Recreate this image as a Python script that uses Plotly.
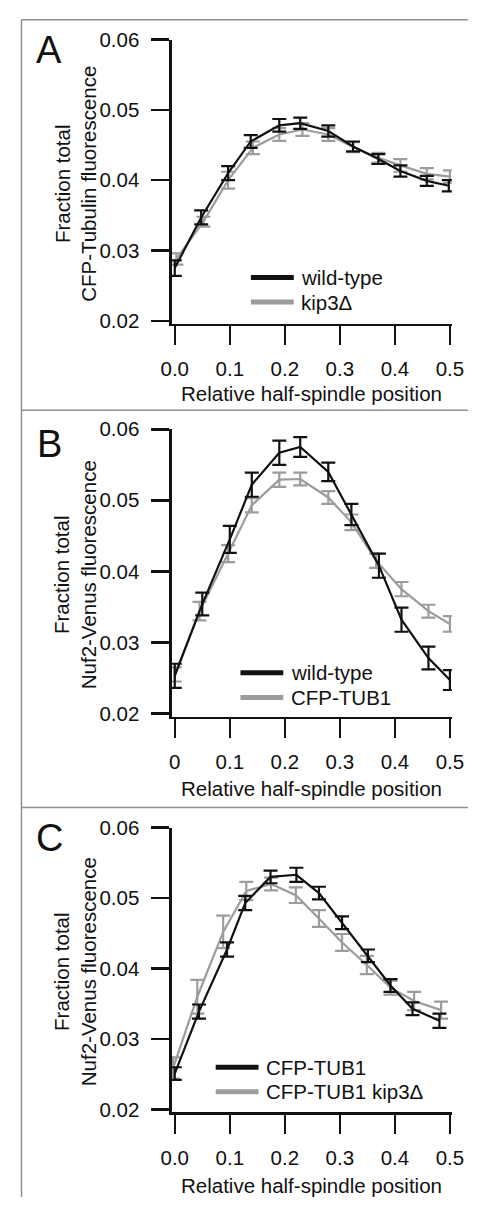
import plotly.graph_objects as go

# ---------------- data ----------------
# Panel A
xA_wt = [0, 0.048, 0.097, 0.138, 0.19, 0.228, 0.279, 0.324, 0.37, 0.41, 0.458, 0.498]
yA_wt = [0.0275, 0.0347, 0.0410, 0.0455, 0.0478, 0.0481, 0.0470, 0.0448, 0.0430, 0.0413, 0.0399, 0.0392]
eA_wt = [0.0011, 0.0010, 0.0010, 0.0009, 0.0009, 0.0008, 0.0008, 0.0007, 0.0007, 0.0008, 0.0007, 0.0008]
xA_k = [0.003, 0.052, 0.097, 0.142, 0.19, 0.232, 0.279, 0.324, 0.37, 0.41, 0.458, 0.5]
yA_k = [0.0288, 0.0341, 0.0400, 0.0446, 0.0465, 0.0472, 0.0465, 0.0447, 0.0432, 0.0421, 0.0409, 0.0405]
eA_k = [0.0008, 0.0007, 0.0012, 0.0009, 0.0009, 0.0009, 0.0009, 0.0007, 0.0007, 0.0009, 0.0008, 0.0009]

# Panel B
xB_wt = [0, 0.05, 0.1, 0.14, 0.19, 0.228, 0.279, 0.321, 0.371, 0.412, 0.461, 0.5]
yB_wt = [0.0253, 0.0354, 0.0445, 0.0522, 0.0567, 0.0575, 0.0540, 0.0480, 0.0408, 0.0332, 0.0278, 0.0247]
eB_wt = [0.0017, 0.0016, 0.0019, 0.0017, 0.0017, 0.0014, 0.0013, 0.0015, 0.0017, 0.0017, 0.0016, 0.0014]
xB_c = [0, 0.045, 0.097, 0.14, 0.19, 0.228, 0.279, 0.321, 0.366, 0.412, 0.461, 0.5]
yB_c = [0.0255, 0.0344, 0.0425, 0.0493, 0.0529, 0.0530, 0.0504, 0.0469, 0.0415, 0.0375, 0.0344, 0.0326]
eB_c = [0.0010, 0.0013, 0.0012, 0.0010, 0.0010, 0.0009, 0.0009, 0.0011, 0.0010, 0.0010, 0.0009, 0.0011]

# Panel C
xC_t = [0, 0.044, 0.095, 0.128, 0.174, 0.221, 0.262, 0.304, 0.351, 0.392, 0.432, 0.481]
yC_t = [0.0251, 0.0339, 0.0427, 0.0493, 0.0530, 0.0533, 0.0507, 0.0465, 0.0418, 0.0376, 0.0343, 0.0326]
eC_t = [0.0009, 0.0010, 0.0010, 0.0010, 0.0009, 0.0010, 0.0009, 0.0009, 0.0009, 0.0009, 0.0009, 0.0010]
xC_k = [-0.003, 0.041, 0.088, 0.130, 0.175, 0.220, 0.262, 0.304, 0.349, 0.392, 0.435, 0.484]
yC_k = [0.0259, 0.0360, 0.0452, 0.0510, 0.0520, 0.0504, 0.0471, 0.0437, 0.0405, 0.0373, 0.0354, 0.0341]
eC_k = [0.0015, 0.0024, 0.0023, 0.0013, 0.0009, 0.0011, 0.0012, 0.0012, 0.0013, 0.0010, 0.0013, 0.0012]

x_tickvals = [0, 0.1, 0.2, 0.3, 0.4, 0.5]
x_ticktext_AC = ["0.0", "0.1", "0.2", "0.3", "0.4", "0.5"]
x_ticktext_B = ["0", "0.1", "0.2", "0.3", "0.4", "0.5"]
y_tickvals = [0.02, 0.03, 0.04, 0.05, 0.06]
y_ticktext = ["0.02", "0.03", "0.04", "0.05", "0.06"]

panel_letters = ["A", "B", "C"]
y_titles = ["Fraction total<br>CFP-Tubulin fluorescence",
            "Fraction total<br>Nuf2-Venus fluorescence",
            "Fraction total<br>Nuf2-Venus fluorescence"]
x_title = "Relative half-spindle position"
legend_names = [["wild-type", "kip3Δ"], ["wild-type", "CFP-TUB1"], ["CFP-TUB1", "CFP-TUB1 kip3Δ"]]

# ---------------- styling / layout ----------------
W, H = 480, 1205
BLACK = "#111111"
GRAY = "#9c9c9c"
FONT = "Liberation Sans, Arial, sans-serif"
FS = 20.5


def px(x):
    return x / W


def py(y):
    return 1 - y / H


# per panel geometry (pixels): y-axis top (0.06), x-axis line y, px per 0.01
panels = [
    dict(top=28.0, bottom=317.0, per=71.5, xtitle=388, legx0=252, legy=[270, 295], lett=39),
    dict(top=424.3, bottom=716.7, per=72.25, xtitle=790, legx0=241, legy=[672, 697], lett=439),
    dict(top=829.3, bottom=1119.0, per=71.7, xtitle=1193, legx0=215, legy=[1073, 1098], lett=840),
]
X_LEFT, X_RIGHT, X0PIX, XSCALE = 169.0, 463.0, 172.0, 578.0

series = [
    [(xA_k, yA_k, eA_k, GRAY), (xA_wt, yA_wt, eA_wt, BLACK)],
    [(xB_c, yB_c, eB_c, GRAY), (xB_wt, yB_wt, eB_wt, BLACK)],
    [(xC_k, yC_k, eC_k, GRAY), (xC_t, yC_t, eC_t, BLACK)],
]

fig = go.Figure()
layout = dict(width=W, height=H, margin=dict(l=0, r=0, t=0, b=0),
              paper_bgcolor="white", plot_bgcolor="white", showlegend=False,
              font=dict(family=FONT, size=FS, color=BLACK))
shapes = []
annotations = []

for i, p in enumerate(panels):
    sfx = "" if i == 0 else str(i + 1)
    xa, ya = "x" + sfx, "y" + sfx
    for (xs, ys, es, col) in series[i]:
        fig.add_trace(go.Scatter(
            x=xs, y=ys, xaxis=xa, yaxis=ya, mode="lines",
            line=dict(color=col, width=2.2),
            error_y=dict(type="data", array=es, visible=True, color=col, thickness=2.2, width=7),
            hoverinfo="skip"))
    ybot = 0.06 - (p["bottom"] - p["top"]) / (p["per"] * 100)
    xr = [(X_LEFT - X0PIX) / XSCALE, (X_RIGHT - X0PIX) / XSCALE]
    layout["xaxis" + sfx] = dict(
        domain=[px(X_LEFT), px(X_RIGHT)], range=xr, anchor=ya,
        showgrid=False, zeroline=False, showline=True, linecolor=BLACK, linewidth=2.5,
        ticks="outside", ticklen=19, tickwidth=2.5, tickcolor=BLACK,
        tickvals=x_tickvals, ticktext=(x_ticktext_B if i == 1 else x_ticktext_AC),
        ticklabelstandoff=6, tickfont=dict(size=FS, family=FONT, color=BLACK))
    layout["yaxis" + sfx] = dict(
        domain=[py(p["bottom"]), py(p["top"])], range=[ybot, 0.06], anchor=xa,
        showgrid=False, zeroline=False, showline=True, linecolor=BLACK, linewidth=2.5,
        ticks="outside", ticklen=18, tickwidth=2.5, tickcolor=BLACK,
        tickvals=y_tickvals, ticktext=y_ticktext,
        ticklabelstandoff=8, tickfont=dict(size=FS, family=FONT, color=BLACK))

    # panel letter
    annotations.append(dict(text=panel_letters[i], x=px(40), y=py(p["lett"]), xref="paper", yref="paper",
                            showarrow=False, xanchor="center", yanchor="middle",
                            font=dict(size=38, family=FONT, color=BLACK)))
    # y title
    annotations.append(dict(text=y_titles[i], x=px(67.5), y=py((p["top"] + p["bottom"]) / 2 + 2),
                            xref="paper", yref="paper", showarrow=False, textangle=-90,
                            xanchor="center", yanchor="middle",
                            font=dict(size=FS, family=FONT, color=BLACK)))
    # x title
    annotations.append(dict(text=x_title, x=px(316), y=py(p["xtitle"]), xref="paper", yref="paper",
                            showarrow=False, xanchor="center", yanchor="middle",
                            font=dict(size=FS, family=FONT, color=BLACK)))
    # legend
    for k, (name, col) in enumerate(zip(legend_names[i], [BLACK, GRAY])):
        yy = p["legy"][k]
        shapes.append(dict(type="line", xref="paper", yref="paper",
                           x0=px(p["legx0"]), x1=px(p["legx0"] + 45), y0=py(yy), y1=py(yy),
                           line=dict(color=col, width=5)))
        annotations.append(dict(text=name, x=px(p["legx0"] + 51), y=py(yy), xref="paper", yref="paper",
                                showarrow=False, xanchor="left", yanchor="middle",
                                font=dict(size=FS, family=FONT, color=BLACK)))

# panel frame lines
FRAME = "#8f8f8f"
for yy in [8, 405, 809]:
    shapes.append(dict(type="line", xref="paper", yref="paper", x0=px(11), x1=1, y0=py(yy), y1=py(yy),
                       line=dict(color=FRAME, width=1.5)))
shapes.append(dict(type="line", xref="paper", yref="paper", x0=px(11), x1=px(11), y0=py(8), y1=0,
                   line=dict(color=FRAME, width=1.5)))

layout["shapes"] = shapes
layout["annotations"] = annotations
fig.update_layout(**layout)
fig.write_html("out.html",
               config={"displayModeBar": False, "staticPlot": True},
               post_script="document.body.style.margin='0';document.body.style.overflow='hidden';")
